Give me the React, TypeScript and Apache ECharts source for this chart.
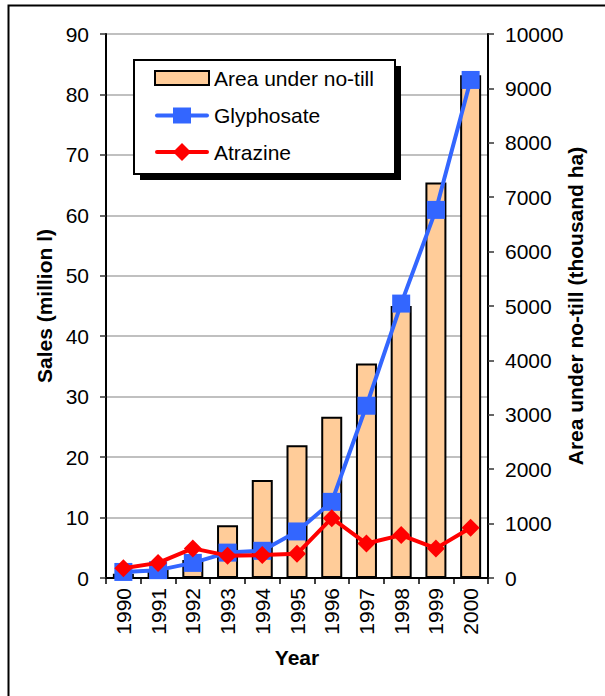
import React, { useEffect, useRef } from "react";
import * as echarts from "echarts";

const years = ["1990", "1991", "1992", "1993", "1994", "1995", "1996", "1997", "1998", "1999", "2000"];
const noTillArea = [80, 150, 330, 970, 1800, 2440, 2965, 3945, 5000, 7270, 9240];
const glyphosate = [1.0, 1.3, 2.5, 4.2, 4.5, 7.7, 12.6, 28.5, 45.4, 60.9, 82.4];
const atrazine = [1.6, 2.5, 4.9, 3.7, 3.8, 4.0, 9.9, 5.7, 7.1, 4.9, 8.3];
const seriesNames = ["Area under no-till", "Glyphosate", "Atrazine"];

const FONT = "Liberation Sans, Arial, sans-serif";
const BAR_COLOR = "#FFCC99";
const BLUE = "#3366FF";
const RED = "#FF0000";

export default function App() {
  const ref = useRef<HTMLDivElement>(null);
  useEffect(() => {
    if (!ref.current) return;
    const chart = echarts.init(ref.current, undefined, { renderer: "svg" });
    const lx = 155;
    const lw = 54;
    const rowY = [78, 115.5, 152];
    const tx = 214;
    chart.setOption({
      animation: false,
      backgroundColor: "#fff",
      textStyle: { fontFamily: FONT },
      grid: {
        left: 106,
        right: 117,
        top: 34,
        bottom: 118,
        show: true,
        borderColor: "#000",
        borderWidth: 2,
        backgroundColor: "transparent",
      },
      graphic: [
        {
          type: "rect",
          z: 3,
          shape: { x: 8.5, y: 5.5, width: 700, height: 800 },
          style: { fill: "none", stroke: "#000", lineWidth: 2 },
        },
        {
          type: "rect",
          z: 3,
          shape: { x: 140, y: 66, width: 261, height: 114 },
          style: { fill: "#000" },
        },
        {
          type: "rect",
          z: 3,
          shape: { x: 134, y: 60, width: 261, height: 114 },
          style: { fill: "#fff", stroke: "#000", lineWidth: 2 },
        },
        {
          type: "rect",
          z: 4,
          shape: { x: lx, y: rowY[0] - 7, width: lw, height: 14 },
          style: { fill: BAR_COLOR, stroke: "#000", lineWidth: 2 },
        },
        {
          type: "line",
          z: 4,
          shape: { x1: lx + 2, y1: rowY[1], x2: lx + lw - 2, y2: rowY[1] },
          style: { stroke: BLUE, lineWidth: 4, lineCap: "round" },
        },
        {
          type: "rect",
          z: 4,
          shape: { x: lx + lw / 2 - 9, y: rowY[1] - 8, width: 18, height: 16 },
          style: { fill: BLUE },
        },
        {
          type: "line",
          z: 4,
          shape: { x1: lx + 2, y1: rowY[2], x2: lx + lw - 2, y2: rowY[2] },
          style: { stroke: RED, lineWidth: 4, lineCap: "round" },
        },
        {
          type: "polygon",
          z: 4,
          shape: {
            points: [
              [lx + lw / 2, rowY[2] - 9],
              [lx + lw / 2 + 9, rowY[2]],
              [lx + lw / 2, rowY[2] + 9],
              [lx + lw / 2 - 9, rowY[2]],
            ],
          },
          style: { fill: RED },
        },
        ...seriesNames.map((n, i) => ({
          type: "text",
          z: 4,
          x: tx,
          y: rowY[i],
          style: {
            text: n,
            fontSize: 21,
            fontFamily: FONT,
            fill: "#000",
            verticalAlign: "middle",
            align: "left",
          },
        })),
      ],
      xAxis: {
        type: "category",
        data: years,
        boundaryGap: true,
        axisLine: { show: true, lineStyle: { color: "#000", width: 2 } },
        axisTick: { show: true, length: 6, alignWithLabel: false, lineStyle: { color: "#000", width: 1.5 } },
        axisLabel: { rotate: 90, fontSize: 21, color: "#000", margin: 10, fontFamily: FONT },
        name: "Year",
        nameLocation: "middle",
        nameGap: 69,
        nameMoveOverlap: false,
        nameTextStyle: { fontSize: 21, fontWeight: "bold", color: "#000", fontFamily: FONT },
      },
      yAxis: [
        {
          type: "value",
          min: 0,
          max: 90,
          interval: 10,
          position: "left",
          axisLine: { show: true, lineStyle: { color: "#000", width: 2 } },
          axisTick: { show: true, length: 6, lineStyle: { color: "#333", width: 1.5 } },
          axisLabel: { fontSize: 21, color: "#000", margin: 17, fontFamily: FONT },
          splitLine: { show: true, lineStyle: { color: "#c0c0c0", width: 2 } },
          name: "Sales (million l)",
          nameLocation: "middle",
          nameGap: 62,
          nameMoveOverlap: false,
          nameRotate: 90,
          nameTextStyle: { fontSize: 21, fontWeight: "bold", color: "#000", fontFamily: FONT, verticalAlign: "middle" },
        },
        {
          type: "value",
          min: 0,
          max: 10000,
          interval: 1000,
          position: "right",
          axisLine: { show: true, lineStyle: { color: "#000", width: 2 } },
          axisTick: { show: true, length: 6, lineStyle: { color: "#333", width: 1.5 } },
          axisLabel: {
            fontSize: 21,
            color: "#000",
            margin: 17,
            fontFamily: FONT,
            formatter: (v: number) => String(v),
          },
          splitLine: { show: false },
          name: "Area under no-till (thousand ha)",
          nameLocation: "middle",
          nameGap: 87,
          nameMoveOverlap: false,
          nameRotate: 90,
          nameTextStyle: { fontSize: 21, fontWeight: "bold", color: "#000", fontFamily: FONT, verticalAlign: "middle" },
        },
      ],
      series: [
        {
          name: seriesNames[0],
          type: "bar",
          yAxisIndex: 1,
          data: noTillArea,
          barWidth: 21,
          itemStyle: { color: BAR_COLOR, borderColor: "#000", borderWidth: 2 },
          z: 1,
        },
        {
          name: seriesNames[1],
          type: "line",
          yAxisIndex: 0,
          data: glyphosate,
          symbol: "rect",
          symbolSize: 18,
          lineStyle: { color: BLUE, width: 4 },
          itemStyle: { color: BLUE },
          z: 2,
        },
        {
          name: seriesNames[2],
          type: "line",
          yAxisIndex: 0,
          data: atrazine,
          symbol: "diamond",
          symbolSize: 18,
          lineStyle: { color: RED, width: 4 },
          itemStyle: { color: RED },
          z: 3,
        },
      ],
    });
    return () => chart.dispose();
  }, []);
  return (
    <div
      ref={ref}
      style={{ position: "fixed", left: 0, top: 0, width: 605, height: 696 }}
    />
  );
}
